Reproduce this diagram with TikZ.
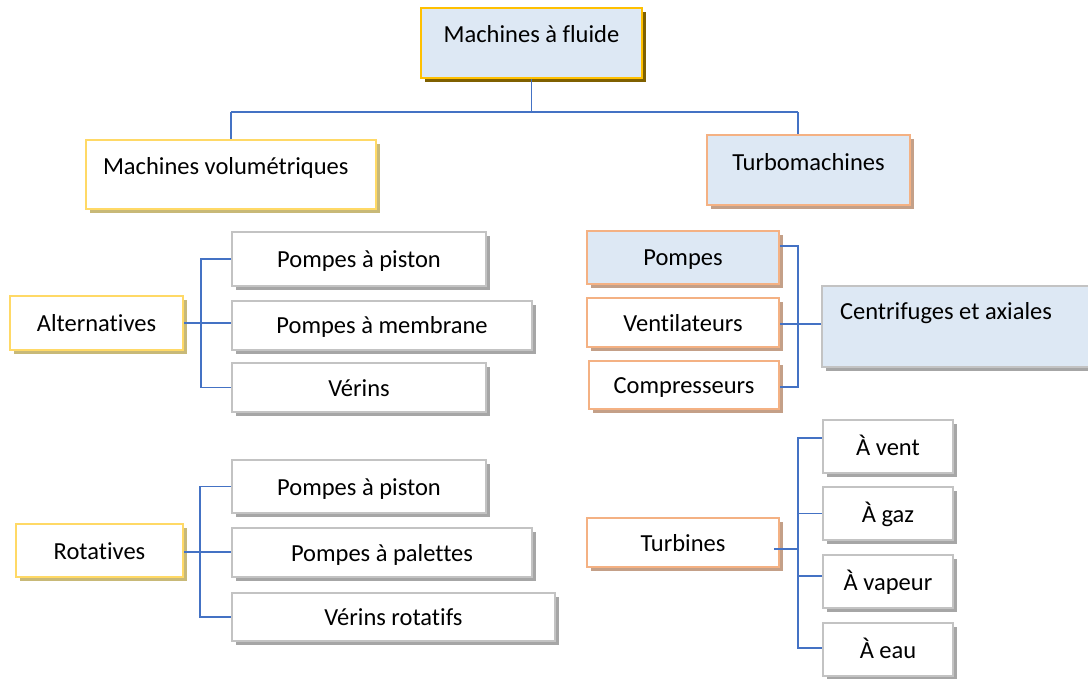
\documentclass[tikz,border=0pt]{standalone}
\usepackage{fontspec}
\setmainfont{Carlito}[Ligatures=NoCommon]
\usetikzlibrary{shadows}
\definecolor{lblue}{HTML}{DDE8F4}
\definecolor{gold}{HTML}{FFC000}
\definecolor{goldsh}{HTML}{7F6000}
\definecolor{lgold}{HTML}{FFD966}
\definecolor{lgoldsh}{HTML}{C8B978}
\definecolor{orng}{HTML}{F4B183}
\definecolor{orngsh}{HTML}{C4A088}
\definecolor{gry}{HTML}{C3C3C3}
\definecolor{grysh}{HTML}{A6A6A6}
\definecolor{conncol}{HTML}{4472C4}
\begin{document}
\begin{tikzpicture}[x=1pt,y=-1pt,
  base/.style={rectangle, inner sep=0pt, line width=2pt,
    font=\fontsize{24.5}{28}\selectfont, text height=18.5pt, text depth=1.5pt},
  sz/.style 2 args={minimum width=#1, minimum height=#2},
  shad/.style={drop shadow={shadow xshift=4pt, shadow yshift=-4pt, fill=#1, opacity=1}},
  goldbox/.style={base, draw=gold, fill=lblue, line width=2.5pt, shad=goldsh},
  lgoldbox/.style={base, draw=lgold, fill=white, shad=lgoldsh},
  orbluebox/.style={base, draw=orng, fill=lblue, shad=orngsh},
  orbox/.style={base, draw=orng, fill=white, shad=orngsh},
  grybox/.style={base, draw=gry, fill=white, shad=grysh},
  grybluebox/.style={base, draw=gry, fill=lblue, shad=grysh},
  conn/.style={draw=conncol, line width=1.5pt}]
\useasboundingbox[fill=white] (0,0) rectangle (1088,679);

% top level
\node[goldbox, sz={221pt}{70pt}, text height=35pt, text depth=35pt] (top) at (531.5,43) {Machines à fluide};
\node[lgoldbox, sz={290pt}{69pt}, text height=34.5pt, text depth=34.5pt] (vol) at (231,174.5)
  {\makebox[256pt][l]{Machines volumétriques}};
\node[orbluebox, sz={203pt}{70pt}, text height=35.5pt, text depth=34.5pt] (turbo) at (808.5,170) {Turbomachines};

% left: alternatives
\node[lgoldbox, sz={173pt}{54pt}] (alt) at (96.5,323) {Alternatives};
\node[grybox, sz={254pt}{54pt}] (pp1) at (359,259) {Pompes à piston};
\node[grybox, sz={300pt}{49pt}] (pm) at (382,325.5) {Pompes à membrane};
\node[grybox, sz={254pt}{49pt}] (ver) at (359,387.5) {Vérins};

% left: rotatives
\node[lgoldbox, sz={167pt}{53pt}] (rot) at (99.5,550.5) {Rotatives};
\node[grybox, sz={254pt}{53pt}] (pp2) at (359,486.5) {Pompes à piston};
\node[grybox, sz={300pt}{49pt}] (ppal) at (382,552.5) {Pompes à palettes};
\node[grybox, sz={323pt}{48pt}] (vrot) at (393.5,617) {Vérins rotatifs};

% right: turbomachines
\node[orbluebox, sz={192pt}{53pt}] (pomp) at (683,257.5) {Pompes};
\node[orbox, sz={192pt}{49pt}] (vent) at (683,322.5) {Ventilateurs};
\node[orbox, sz={190pt}{48pt}] (comp) at (684,385) {Compresseurs};
\node[grybluebox, sz={273pt}{81pt}, text height=33.5pt, text depth=47.5pt] (centr) at (958.5,326.5)
  {\makebox[237pt][l]{Centrifuges et axiales}};

\node[orbox, sz={192pt}{49pt}] (turb) at (683,542.5) {Turbines};
\node[grybox, sz={130pt}{53pt}] (avent) at (888,446.5) {À vent};
\node[grybox, sz={130pt}{53pt}] (agaz) at (888,513.5) {À gaz};
\node[grybox, sz={130pt}{53pt}] (avap) at (888,581.5) {À vapeur};
\node[grybox, sz={130pt}{53pt}] (aeau) at (888,649.5) {À eau};

% connectors
\coordinate (hl) at (231,112);
\coordinate (hr) at (798,112);
\draw[conn] (top.south) -- (top.south |- hl);
\draw[conn] (hl) -- (hr);
\draw[conn] (hl) -- (hl |- vol.north);
\draw[conn] (hr) -- (hr |- turbo.north);

\coordinate (ab) at (201,0);
\draw[conn] (pp1.west) -- (pp1.west -| ab) -- (ver.west -| ab) -- (ver.west);
\draw[conn] (alt.east) -- (alt.east -| pm.west);

\coordinate (rb) at (200,0);
\draw[conn] (pp2.west) -- (pp2.west -| rb) -- (vrot.west -| rb) -- (vrot.west);
\draw[conn] ([yshift=-1.5pt]rot.east) -- ([yshift=-1.5pt]rot.east -| ppal.west);

\coordinate (tb) at (798,0);
\draw[conn] ([yshift=11.5pt]pomp.east) -- ([yshift=11.5pt]pomp.east -| tb) -- ([yshift=-2pt]comp.east -| tb) -- ([yshift=-2pt]comp.east);
\draw[conn] ([yshift=-1.5pt]vent.east) -- ([yshift=-1.5pt]vent.east -| centr.west);

\draw[conn] ([yshift=8.5pt]avent.west) -- ([yshift=8.5pt]avent.west -| tb) -- ([yshift=1.5pt]aeau.west -| tb) -- ([yshift=1.5pt]aeau.west);
\draw[conn] ([xshift=-6pt,yshift=-6.5pt]turb.east) -- ([yshift=-6.5pt]turb.east -| tb);
\draw[conn] (agaz.west) -- (agaz.west -| tb);
\draw[conn] ([yshift=5.5pt]avap.west) -- ([yshift=5.5pt]avap.west -| tb);
\end{tikzpicture}
\end{document}
